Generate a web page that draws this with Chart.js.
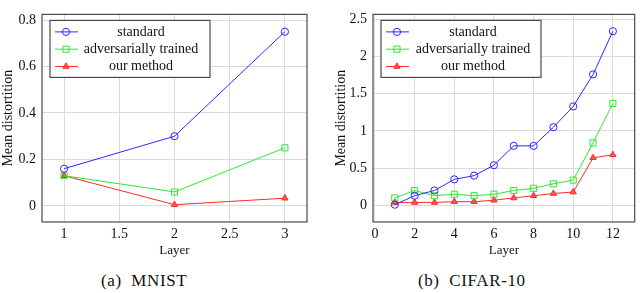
<!DOCTYPE html>
<html lang="en">
<head>
    <meta charset="UTF-8">
    <title>Mean distortion per layer</title>
    <script src="https://cdn.jsdelivr.net/npm/chart.js"></script>
    <style>
        body {
            margin: 0;
            width: 640px;
            height: 293px;
            background: #fff;
            position: relative;
            overflow: hidden;
            font-family: 'Liberation Serif', serif;
        }
        .panel {
            position: absolute;
            top: 0;
        }
        .caption {
            position: absolute;
            top: 271px;
            font-size: 17px;
            letter-spacing: 0.6px;
            color: #111;
            white-space: nowrap;
        }
    </style>
</head>
<body>
    <canvas id="mnist" class="panel" width="320" height="258" style="left:0"></canvas>
    <canvas id="cifar" class="panel" width="320" height="258" style="left:320px"></canvas>
    <div class="caption" style="left:101px">(a)&nbsp; MNIST</div>
    <div class="caption" style="left:418px">(b)&nbsp; CIFAR-10</div>

    <script>
        const seriesLabels = ['standard', 'adversarially trained', 'our method'];

        const mnistLayers = [1, 2, 3];
        const mnistStandard = [0.16, 0.30, 0.75];
        const mnistAdv = [0.13, 0.06, 0.25];
        const mnistOurs = [0.13, 0.005, 0.033];
        const mnistXTicks = [1, 1.5, 2, 2.5, 3];
        const mnistYTicks = [0, 0.2, 0.4, 0.6, 0.8];

        const cifarLayers = [1, 2, 3, 4, 5, 6, 7, 8, 9, 10, 11, 12];
        const cifarStandard = [0.01, 0.13, 0.20, 0.35, 0.40, 0.54, 0.80, 0.80, 1.05, 1.33, 1.76, 2.34];
        const cifarAdv = [0.10, 0.20, 0.13, 0.15, 0.13, 0.15, 0.20, 0.23, 0.29, 0.34, 0.84, 1.37];
        const cifarOurs = [0.04, 0.04, 0.04, 0.05, 0.05, 0.07, 0.10, 0.13, 0.16, 0.18, 0.64, 0.68];
        const cifarXTicks = [0, 2, 4, 6, 8, 10, 12];
        const cifarYTicks = [0, 0.5, 1, 1.5, 2, 2.5];

        const FONT = 'Liberation Serif';
        const styles = [
            { color: '#2a2aff', fill: 'rgba(0,0,0,0)', point: 'circle', radius: 3.6 },
            { color: '#2ee82e', fill: 'rgba(0,0,0,0)', point: 'rect', radius: 4.3 },
            { color: '#ff2a2a', fill: '#ff5555', point: 'triangle', radius: 3.6 }
        ];

        function pairs(xs, ys) {
            return xs.map((x, i) => ({ x: x, y: ys[i] }));
        }

        // frame around the plot area, pgfplots style
        const framePlugin = {
            id: 'frame',
            beforeDatasetsDraw(chart) {
                const a = chart.chartArea;
                const ctx = chart.ctx;
                ctx.save();
                ctx.strokeStyle = '#4a4a4a';
                ctx.lineWidth = 1.2;
                ctx.strokeRect(a.left, a.top, a.right - a.left, a.bottom - a.top);
                ctx.restore();
            }
        };

        // legend box inside the top-left corner of the plot
        function boxLegend(textX) {
            return {
                id: 'boxLegend',
                afterDatasetsDraw(chart) {
                    const a = chart.chartArea;
                    const ctx = chart.ctx;
                    const x0 = a.left + 8, y0 = a.top + 6, w = 160, h = 57;
                    ctx.save();
                    ctx.fillStyle = '#fff';
                    ctx.fillRect(x0, y0, w, h);
                    ctx.strokeStyle = '#4a4a4a';
                    ctx.lineWidth = 1.2;
                    ctx.strokeRect(x0, y0, w, h);
                    chart.data.datasets.forEach((ds, i) => {
                        const y = y0 + 11.5 + i * 17.3;
                        const s = styles[i];
                        ctx.strokeStyle = s.color;
                        ctx.lineWidth = 1;
                        ctx.beginPath();
                        ctx.moveTo(x0 + 5, y);
                        ctx.lineTo(x0 + 28, y);
                        ctx.stroke();
                        ctx.fillStyle = s.fill;
                        Chart.helpers.drawPoint(ctx, {
                            pointStyle: s.point, radius: s.radius, borderWidth: 1, rotation: 0
                        }, x0 + 16, y);
                        ctx.fillStyle = '#111';
                        ctx.font = '14px ' + FONT;
                        ctx.textAlign = 'center';
                        ctx.textBaseline = 'middle';
                        ctx.fillText(ds.label, x0 + textX, y);
                    });
                    ctx.restore();
                }
            };
        }

        function makeChart(id, xs, series, xr, yr, xTicks, yTicks, pad, yWidth, textX) {
            new Chart(document.getElementById(id), {
                type: 'scatter',
                data: {
                    datasets: series.map((ys, i) => ({
                        label: seriesLabels[i],
                        data: pairs(xs, ys),
                        showLine: true,
                        borderColor: styles[i].color,
                        backgroundColor: styles[i].fill,
                        borderWidth: 1,
                        pointStyle: styles[i].point,
                        pointRadius: styles[i].radius,
                        pointBorderWidth: 1,
                        pointBorderColor: styles[i].color,
                        pointBackgroundColor: styles[i].fill
                    }))
                },
                options: {
                    responsive: false,
                    animation: false,
                    layout: { padding: pad },
                    plugins: {
                        legend: { display: false },
                        tooltip: { enabled: false }
                    },
                    scales: {
                        x: {
                            type: 'linear',
                            min: xr[0], max: xr[1],
                            afterBuildTicks: s => { s.ticks = xTicks.map(v => ({ value: v })); },
                            afterFit: s => { s.height = 36; },
                            grid: { color: '#dadada', drawTicks: false },
                            border: { display: false },
                            ticks: {
                                padding: 4,
                                color: '#111',
                                font: { family: FONT, size: 14 },
                                callback: v => String(v)
                            },
                            title: {
                                display: true,
                                text: 'Layer',
                                color: '#111',
                                font: { family: FONT, size: 13 },
                                padding: { top: 0, bottom: 0 }
                            }
                        },
                        y: {
                            type: 'linear',
                            min: yr[0], max: yr[1],
                            afterBuildTicks: s => { s.ticks = yTicks.map(v => ({ value: v })); },
                            afterFit: s => { s.width = yWidth; },
                            grid: { color: '#dadada', drawTicks: false },
                            border: { display: false },
                            ticks: {
                                padding: 6,
                                color: '#111',
                                font: { family: FONT, size: 14 },
                                callback: v => String(v)
                            },
                            title: {
                                display: true,
                                text: 'Mean distortition',
                                color: '#111',
                                font: { family: FONT, size: 14 },
                                padding: { top: 0, bottom: 0 }
                            }
                        }
                    }
                },
                plugins: [framePlugin, boxLegend(textX)]
            });
        }

        makeChart('mnist', mnistLayers, [mnistStandard, mnistAdv, mnistOurs],
            [0.8, 3.2], [-0.0695, 0.8245], mnistXTicks, mnistYTicks,
            { left: 0, right: 13, top: 1, bottom: 0 }, 42, 91);

        makeChart('cifar', cifarLayers, [cifarStandard, cifarAdv, cifarOurs],
            [-0.1, 13.1], [-0.223, 2.566], cifarXTicks, cifarYTicks,
            { left: 13, right: 1, top: 1, bottom: 0 }, 40, 92);
    </script>
</body>
</html>
